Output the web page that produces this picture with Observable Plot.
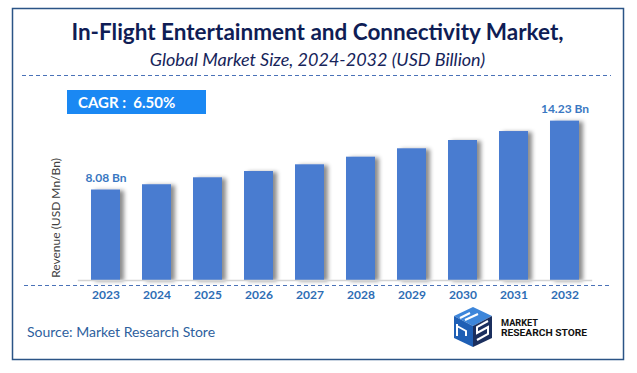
<!DOCTYPE html>
<html><head><meta charset="utf-8">
<script src="https://cdn.jsdelivr.net/npm/d3@7"></script>
<script src="https://cdn.jsdelivr.net/npm/@observablehq/plot@0.6"></script>
<style>
body{margin:0;background:#fff;}
#wrap{position:relative;width:637px;height:373px;overflow:hidden;font-family:Lato,"Open Sans",sans-serif;background:#fff;}
.abs{position:absolute;}
</style></head><body>
<div id="wrap">
  <div id="chart" class="abs" style="left:0;top:0;"></div>
  <svg class="abs" id="deco" width="637" height="373" style="left:0;top:0;pointer-events:none;">
    <rect x="12.5" y="8.5" width="611" height="351" fill="none" stroke="#2b5486" stroke-width="1.5"/>
    <line x1="22" y1="75.5" x2="611" y2="75.5" stroke="#4a72b8" stroke-width="1" stroke-dasharray="4,3"/>
    <line x1="24" y1="285.5" x2="612" y2="285.5" stroke="#4a72b8" stroke-width="1" stroke-dasharray="4,3"/>
    <g id="logo">
      <polygon points="473,307 492,316 473,326 454,316" fill="#3d86da"/>
      <polygon points="454,316 473,326 473,347 454,338" fill="#1f5fb5"/>
      <polygon points="473,326 492,316 492,338 473,347" fill="#1b2f5e"/>
      <path d="M460,318 L470,313 M465,320 L478,314 M457,324 L457,336 M457,326 L466,331 L466,336" stroke="#fff" stroke-width="2" fill="none"/>
      <path d="M488,321 L477,327 L477,333 L488,327 L488,334 L477,340" stroke="#fff" stroke-width="2" fill="none"/>
      <text x="501" y="325.8" font-family="Roboto, sans-serif" font-weight="bold" font-size="8.5" fill="#111" textLength="37" lengthAdjust="spacingAndGlyphs">MARKET</text>
      <text x="501" y="335.8" font-family="Roboto, sans-serif" font-weight="bold" font-size="8.5" fill="#111" textLength="86" lengthAdjust="spacingAndGlyphs">RESEARCH STORE</text>
    </g>
  </svg>
  <div class="abs" style="left:12px;top:19px;width:611px;text-align:center;font-size:22.5px;line-height:26px;font-weight:bold;color:#0f1d55;">In-Flight Entertainment and Connectivity Market,</div>
  <div class="abs" style="left:12px;top:49px;width:611px;text-align:center;font-size:18px;line-height:21px;font-style:italic;color:#16245a;">Global Market Size, 2024-2032 (USD Billion)</div>
  <div class="abs" style="left:67px;top:90px;width:139px;height:24px;background:#1a88f3;"></div>
  <div class="abs" style="left:78px;top:91px;line-height:22px;font-size:15px;font-weight:bold;color:#fff;white-space:pre;">CAGR :  6.50%</div>
  <div class="abs" style="left:55px;top:218px;width:0;height:0;">
    <div style="position:absolute;transform:translate(-50%,-50%) rotate(-90deg);white-space:nowrap;font-size:12px;color:#404040;">Revenue (USD Mn/Bn)</div>
  </div>
  <div class="abs" style="left:27px;top:322px;line-height:20px;font-size:14px;color:#2e5f9e;">Source: Market Research Store</div>
</div>
<script>
const years = ["2023","2024","2025","2026","2027","2028","2029","2030","2031","2032"];
const values = [8.08, 8.55, 9.17, 9.73, 10.33, 11.01, 11.76, 12.50, 13.30, 14.23];
const labelYears = ["2023","2032"];
const labelTexts = ["8.08 Bn","14.23 Bn"];

const data = years.map((y,i)=>({year:y, value:values[i]}));
const labels = labelYears.map((y,i)=>({year:y, value:values[years.indexOf(y)], label:labelTexts[i]}));

const plot = Plot.plot({
  width:637, height:373,
  marginLeft:77.8, marginRight:44.8, marginTop:112, marginBottom:93,
  x:{domain:years, paddingInner:0.436, paddingOuter:0.218, label:null, axis:null},
  y:{domain:[0,15], axis:null},
  style:{background:"transparent", fontFamily:"Lato, sans-serif", overflow:"visible"},
  marks:[
    Plot.barY(data,{x:"year", y:"value", fill:"#4a7bd0"}),
    Plot.ruleY([0],{stroke:"#d4d4d4", strokeWidth:1.5}),
    Plot.text(labels,{x:"year", y:"value", text:"label", dy:-12, fill:"#3a78c2", fontWeight:"bold", fontSize:12}),
    Plot.axisX({tickSize:0, tickPadding:10, fill:"#2e6db4", fontWeight:"bold", fontSize:12, label:null})
  ]
});
const svg = d3.select(plot);
svg.insert("defs",":first-child").html('<filter id="sh" x="-30%" y="-10%" width="180%" height="130%"><feDropShadow dx="4" dy="1" stdDeviation="2" flood-color="#000" flood-opacity="0.45"/></filter>');
svg.selectAll("g[aria-label=bar]").attr("filter","url(#sh)");
svg.selectAll("g[aria-label='x-axis tick label'] text").attr("font-weight","bold").attr("font-size",12);
document.getElementById("chart").appendChild(plot);
</script>
</body></html>
